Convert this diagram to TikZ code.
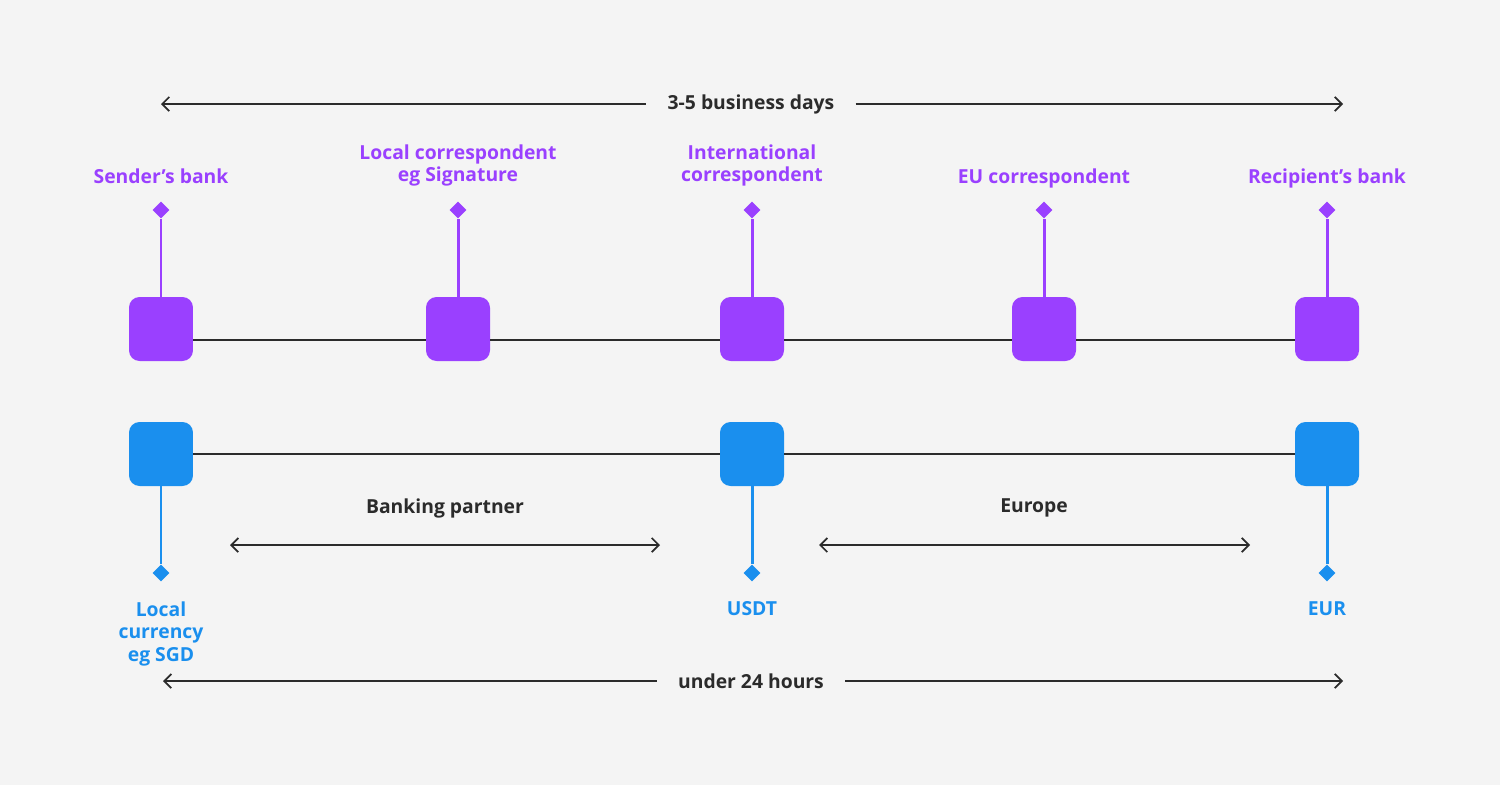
\documentclass[tikz,border=0pt]{standalone}
\usepackage{fontspec}
\setmainfont{Open Sans}
\usetikzlibrary{arrows.meta,positioning,shapes.geometric}
\definecolor{bg}{HTML}{F4F4F4}
\definecolor{purp}{HTML}{9A40FF}
\definecolor{blu}{HTML}{1A8FEE}
\definecolor{ink}{HTML}{2B2B2B}

\begin{document}
\begin{tikzpicture}[x=0.02cm,y=-0.02cm,
  hop/.style={rounded corners=6pt,minimum size=1.28cm,inner sep=0pt},
  tip/.style={diamond,inner sep=0pt,minimum size=0.34cm},
  lbl/.style={font=\fontsize{11}{13}\selectfont\bfseries,align=center,inner sep=0pt},
  span/.style={draw=ink,line width=1pt},
  barb/.style={span,{Straight Barb[length=4pt,width=8pt]}-{Straight Barb[length=4pt,width=8pt]}},
  lbarb/.style={span,{Straight Barb[length=4pt,width=8pt]}-},
  rbarb/.style={span,-{Straight Barb[length=4pt,width=8pt]}}]

  % Background
  \fill[bg] (0,0) rectangle (1500,785);
  \useasboundingbox (0,0) rectangle (1500,785);

  % Purple chain
  \foreach \n/\x in {s/161,l/458,i/752,e/1044,r/1327}{
    \node[hop,fill=purp] (p\n) at (\x,329) {};
    \node[tip,fill=purp] (d\n) at (\x,210) {};
  }
  \draw[ink,line width=1pt] (ps.east |- 0,340) -- (pl.west |- 0,340)
    (pl.east |- 0,340) -- (pi.west |- 0,340)
    (pi.east |- 0,340) -- (pe.west |- 0,340)
    (pe.east |- 0,340) -- (pr.west |- 0,340);
  \foreach \n in {s,l,i,e,r}
    \draw[purp,line width=1.7pt] (p\n) -- (d\n);
  \node[lbl,purp,anchor=north] (ts) at (161,168) {Sender’s bank};
  \node[lbl,purp,anchor=north] (tl) at (458,144) {Local correspondent\\eg Signature};
  \node[lbl,purp,anchor=north] (ti) at (752,144) {International\\correspondent};
  \node[lbl,purp,anchor=north] (te) at (1044,168) {EU correspondent};
  \node[lbl,purp,anchor=north] (tr) at (1327,168) {Recipient’s bank};

  % Blue chain
  \foreach \n/\x in {a/161,b/752,c/1327}{
    \node[hop,fill=blu] (b\n) at (\x,454) {};
    \node[tip,fill=blu] (c\n) at (\x,573) {};
    \draw[blu,line width=1.7pt] (b\n) -- (c\n);
  }
  \draw[ink,line width=1pt] (ba) -- (bb) -- (bc);
  \node[lbl,blu,anchor=north] (ua) at (161,601) {Local\\currency\\eg SGD};
  \node[lbl,blu,anchor=north] (ub) at (752,601) {USDT};
  \node[lbl,blu,anchor=north] (uc) at (1327,601) {EUR};

  % Spans
  \coordinate (t1) at (161,104); \coordinate (t2) at (1343,104);
  \node[lbl,ink,inner xsep=12pt] (top) at (751,104) {3-5 business days};
  \draw[lbarb] (t1) -- (top.west);
  \draw[rbarb] (top.east) -- (t2);

  \coordinate (m1) at (230,545); \coordinate (m2) at (660,545);
  \coordinate (m3) at (819,545); \coordinate (m4) at (1250,545);
  \node[lbl,ink] (bp) at (445,508) {Banking partner};
  \node[lbl,ink] (eu) at (1034,508) {Europe};
  \draw[barb] (m1) -- (m2);
  \draw[barb] (m3) -- (m4);

  \coordinate (b1) at (163,681); \coordinate (b2) at (1343,681);
  \node[lbl,ink,inner xsep=12pt] (bot) at (751,681) {under 24 hours};
  \draw[lbarb] (b1) -- (bot.west);
  \draw[rbarb] (bot.east) -- (b2);
\end{tikzpicture}
\end{document}
